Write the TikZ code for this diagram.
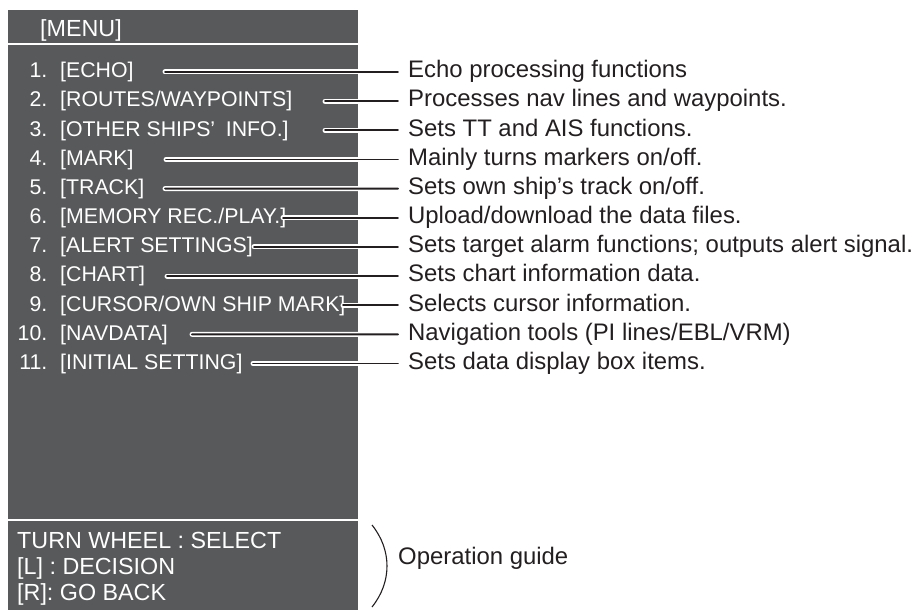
\documentclass[tikz,border=0pt]{standalone}
\usepackage{fontspec}
\setmainfont{Liberation Sans}
\definecolor{panel}{RGB}{88,89,91}
\definecolor{ink}{RGB}{35,31,32}
\begin{document}
\begin{tikzpicture}[x=1pt,y=-1pt,
  menutxt/.style={text=white, font=\fontsize{21.3}{25}\selectfont, inner sep=0pt, anchor=base west},
  numtxt/.style={menutxt, anchor=base east},
  guidetxt/.style={text=white, font=\fontsize{23.3}{28}\selectfont, inner sep=0pt, anchor=base west},
  lbl/.style={text=ink, font=\fontsize{23.9}{28}\selectfont, inner sep=0pt, anchor=base west},
  leader/.style={draw=ink, line width=1.8pt, line cap=round,
    preaction={draw=white, line width=5pt, line cap=round}},
  sep/.style={draw=white, line width=2pt}
]
\useasboundingbox (0,0) rectangle (916,610);
% panel
\fill[panel] (8,10) rectangle (358,610);
\draw[sep] (8,44) -- (358,44);
\draw[sep] (8,520) -- (358,520);
\node[guidetxt] (hdr) at (40,37) {[MENU]};

% numbers
\node[numtxt] (n1)  at (47.5,77.8)  {1.};
\node[numtxt] (n2)  at (47.5,106.95) {2.};
\node[numtxt] (n3)  at (47.5,136.1) {3.};
\node[numtxt] (n4)  at (47.5,165.25) {4.};
\node[numtxt] (n5)  at (47.5,194.4) {5.};
\node[numtxt] (n6)  at (47.5,223.55) {6.};
\node[numtxt] (n7)  at (47.5,252.7) {7.};
\node[numtxt] (n8)  at (47.5,281.85) {8.};
\node[numtxt] (n9)  at (47.5,311.0) {9.};
\node[numtxt] (n10) at (47.5,340.15) {10.};
\node[numtxt] (n11) at (47.5,369.3) {11.};

% menu items
\node[menutxt] (m1)  at (60,77.8)  {[ECHO]};
\node[menutxt] (m2)  at (60,106.95) {[ROUTES/WAYPOINTS]};
\node[menutxt] (m3)  at (60,136.1) {[OTHER SHIPS’\hspace{0.5em}INFO.]};
\node[menutxt] (m4)  at (60,165.25) {[MARK]};
\node[menutxt] (m5)  at (60,194.4) {[TRACK]};
\node[menutxt] (m6)  at (60,223.55) {[MEMORY REC./PLAY.]};
\node[menutxt] (m7)  at (60,252.7) {[ALERT SETTINGS]};
\node[menutxt] (m8)  at (60,281.85) {[CHART]};
\node[menutxt] (m9)  at (60,311.0) {[CURSOR/OWN SHIP MARK]};
\node[menutxt] (m10) at (60,340.15) {[NAVDATA]};
\node[menutxt] (m11) at (60,369.3) {[INITIAL SETTING]};

% right labels
\node[lbl] (r1)  at (408,77.8)  {Echo processing functions};
\node[lbl] (r2)  at (408,106.95) {Processes nav lines and waypoints.};
\node[lbl] (r3)  at (408,136.1) {Sets TT and AIS functions.};
\node[lbl] (r4)  at (408,165.25) {Mainly turns markers on/off.};
\node[lbl] (r5)  at (408,194.4) {Sets own ship’s track on/off.};
\node[lbl] (r6)  at (408,223.55) {Upload/download the data files.};
\node[lbl] (r7)  at (408,252.7) {Sets target alarm functions; outputs alert signal.};
\node[lbl] (r8)  at (408,281.85) {Sets chart information data.};
\node[lbl] (r9)  at (408,311.0) {Selects cursor information.};
\node[lbl] (r10) at (408,340.15) {Navigation tools (PI lines/EBL/VRM)};
\node[lbl] (r11) at (408,369.3) {Sets data display box items.};

% leader start points
\coordinate (s1)  at (165,72.0);
\coordinate (s2)  at (325,101.15);
\coordinate (s3)  at (325,130.3);
\coordinate (s4)  at (166,159.45);
\coordinate (s5)  at (165,188.6);
\coordinate (s6)  at (283,217.75);
\coordinate (s7)  at (254,246.9);
\coordinate (s8)  at (167,276.05);
\coordinate (s9)  at (343,305.2);
\coordinate (s10) at (192,334.35);
\coordinate (s11) at (253,363.5);

\foreach \i in {1,...,11}{
  \draw[leader] (s\i) -- ([shift={(-10,-5.8)}]r\i.base west);
}

% operation guide
\node[guidetxt] (g1) at (17,548) {TURN WHEEL : SELECT};
\node[guidetxt] (g2) at (17,574) {[L] : DECISION};
\node[guidetxt] (g3) at (17,600) {[R]: GO BACK};
\coordinate (bt) at (372,525);
\coordinate (bb) at (372,607);
\draw[ink, line width=1.1pt] (bt) .. controls (392,550) and (392,582) .. (bb);
\node[lbl] (og) at (398,564) {Operation guide};
\end{tikzpicture}
\end{document}
